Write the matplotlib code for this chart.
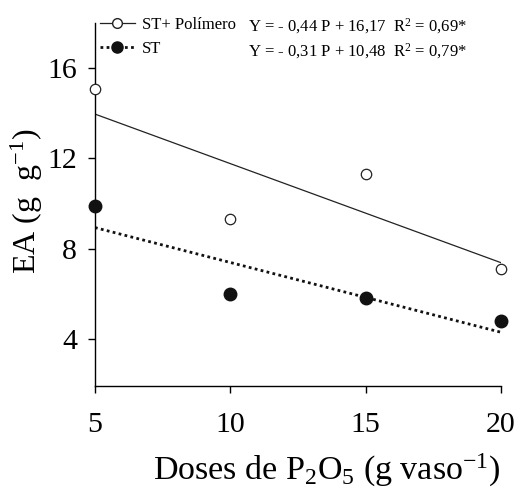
import matplotlib
matplotlib.use("Agg")
import matplotlib.pyplot as plt
import numpy as np

plt.rcParams['font.family'] = 'Liberation Serif'
plt.rcParams['mathtext.fontset'] = 'custom'
plt.rcParams['mathtext.rm'] = 'Liberation Serif'
plt.rcParams['mathtext.it'] = 'Liberation Serif:italic'

# ── Data ──────────────────────────────────────
doses = [5, 10, 15, 20]
ea_polimero = [15.1, 9.3, 11.3, 7.1]
ea_st = [9.9, 6.0, 5.8, 4.8]

# fitted equations (from the legend)
fit_polimero = (-0.44, 16.17)
fit_st = (-0.31, 10.48)
eq_polimero = "Y = - 0,44 P + 16,17  R$^2$ = 0,69*"
eq_st = "Y = - 0,31 P + 10,48  R$^2$ = 0,79*"

fig = plt.figure(figsize=(5.16, 4.96), dpi=100)
ax = fig.add_axes([0.184, 0.222, 0.787, 0.731])

xs = np.array([5, 20])
ax.plot(xs, fit_polimero[0] * xs + fit_polimero[1], color='#222222', lw=0.9)
ax.plot(xs, fit_st[0] * xs + fit_st[1], color='#111111', lw=2.0, ls=(0, (1, 1.2)))

ax.plot(doses, ea_polimero, 'o', mfc='white', mec='#222222', mew=0.9, ms=7.5, clip_on=False, zorder=3)
ax.plot(doses, ea_st, 'o', mfc='#111111', mec='#111111', ms=9, clip_on=False, zorder=3)

ax.set_xlim(5, 20)
ax.set_ylim(1.9, 18)
ax.set_xticks([5, 10, 15, 20])
ax.set_yticks([4, 8, 12, 16])
ax.spines['top'].set_visible(False)
ax.spines['right'].set_visible(False)
for sp in ('left', 'bottom'):
    ax.spines[sp].set_linewidth(1.0)
ax.tick_params(direction='out', length=5, width=1.0, labelsize=21.5, pad=8)
ax.tick_params(axis='x', pad=14)

ax.set_xlabel("Doses de P$_2$O$_5$ (g vaso$^{-1}$)", fontsize=24.5, labelpad=10, x=0.57)
ax.set_ylabel("EA (g  g$^{-1}$)", fontsize=23)
ax.yaxis.set_label_coords(-0.122, 0.51)

# legend
h1, = ax.plot([], [], '-o', color='#222222', lw=0.9, mfc='white', mec='#222222', ms=7)
h2, = ax.plot([], [], 'o', color='#111111', lw=2.0, ls=(0, (1, 1.2)), ms=8)
leg = ax.legend([h1, h2], ["ST+ Polímero", "ST"], loc='upper left',
                bbox_to_anchor=(0.012, 1.017), frameon=False, fontsize=12,
                handlelength=2.1, handletextpad=0.45, labelspacing=0.45,
                borderaxespad=0, borderpad=0)
fig.text(0.481, 0.948, eq_polimero, fontsize=12, va='center', ha='left')
fig.text(0.481, 0.896, eq_st, fontsize=12, va='center', ha='left')

fig.savefig("out.png", dpi=100)
